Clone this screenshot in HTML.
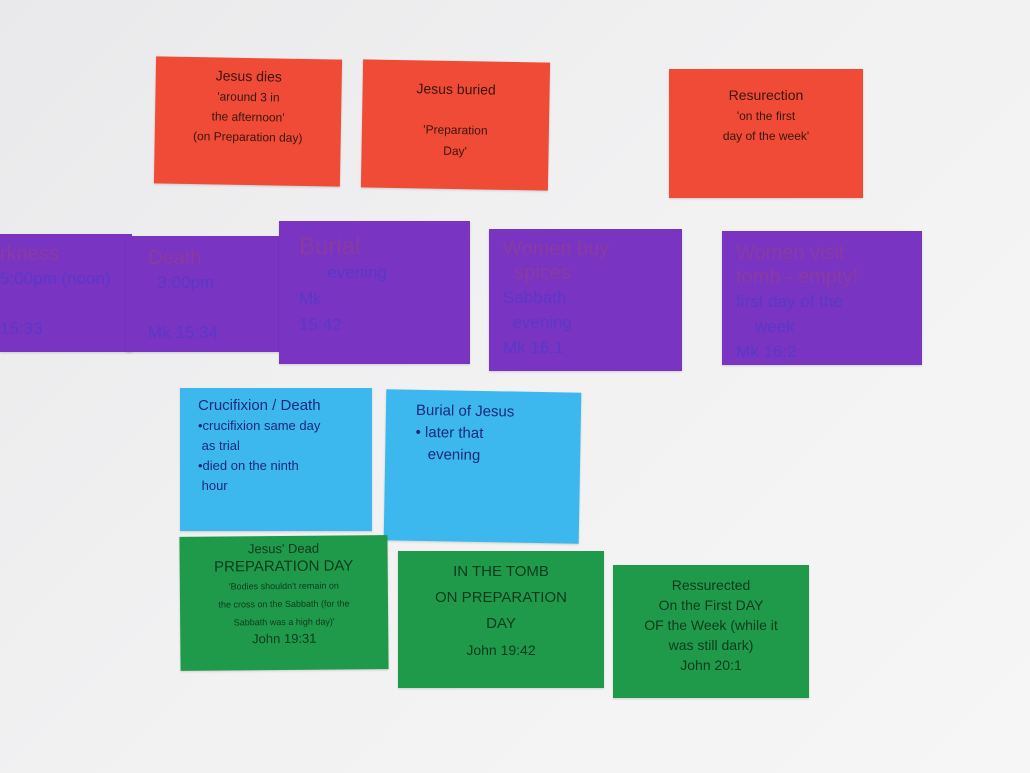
<!DOCTYPE html>
<html><head><meta charset="utf-8"><style>
html,body{margin:0;padding:0}
body{width:1030px;height:773px;overflow:hidden;position:relative;
background:linear-gradient(135deg,#e9e9eb 0%,#f1f1f2 45%,#f6f6f6 100%);
font-family:"Liberation Sans",sans-serif}
.n{position:absolute;box-sizing:border-box;box-shadow:0 1px 2px rgba(0,0,0,.15)}
.r{background:#f04b36;color:#3a1510;font-size:14px;text-align:center;line-height:20px}
.p{background:#7a34c2;color:#8a3aa0;font-size:20px;line-height:24px}
.p .b{color:#5a38c8;font-size:17px}
.bl{background:#3cb8ee;color:#1a2a7a;font-size:13px;line-height:20px}
.g{background:#1f9a4b;color:#0d3a1c;font-size:13px;text-align:center;line-height:18px}
</style></head><body>

<div class="n r" style="left:155px;top:58px;width:186px;height:127px;transform:rotate(1deg);padding-top:8px">Jesus dies<br><span style="font-size:12px;line-height:18px">'around 3 in<br>the afternoon'<br>(on Preparation day)</span></div>
<div class="n r" style="left:362px;top:61px;width:187px;height:128px;transform:rotate(1deg);padding-top:18px">Jesus buried<br><br><span style="font-size:12px">'Preparation<br>Day'</span></div>
<div class="n r" style="left:669px;top:69px;width:194px;height:129px;padding-top:16px">Resurection<br><span style="font-size:12px;line-height:18px">'on the first<br>day of the week'</span></div>

<div class="n p" style="left:0;top:234px;width:132px;height:118px;padding:8px 0 0 0">rkness<br><span class="b">5:00pm (noon)<br><br>15:33</span></div>
<div class="n p" style="left:126px;top:236px;width:160px;height:116px;padding:10px 0 0 22px">Death<br><span class="b">&nbsp;&nbsp;3:00pm<br><br>Mk 15:34</span></div>
<div class="n p" style="left:279px;top:221px;width:191px;height:143px;padding:14px 0 0 20px;font-size:24px">Burial<br><span class="b">&nbsp;&nbsp;&nbsp;&nbsp;&nbsp;&nbsp;evening<br>Mk<br>15:42</span></div>
<div class="n p" style="left:489px;top:229px;width:193px;height:142px;padding:8px 0 0 14px">Women buy<br>&nbsp;&nbsp;spices<br><span class="b">Sabbath<br>&nbsp;&nbsp;evening<br>Mk 16:1</span></div>
<div class="n p" style="left:722px;top:231px;width:200px;height:134px;padding:10px 0 0 14px">Women visit<br>tomb - empty!<br><span class="b">first day of the<br>&nbsp;&nbsp;&nbsp;&nbsp;week<br>Mk 16:2</span></div>

<div class="n bl" style="left:180px;top:388px;width:192px;height:143px;padding:8px 0 0 18px"><span style="font-size:15px">Crucifixion / Death</span><br>•crucifixion same day<br>&nbsp;as trial<br>•died on the ninth<br>&nbsp;hour</div>
<div class="n bl" style="left:385px;top:391px;width:195px;height:151px;padding:10px 0 0 30px;font-size:15px;line-height:22px;transform:rotate(1deg)">Burial of Jesus<br>• later that<br>&nbsp;&nbsp;&nbsp;evening</div>

<div class="n g" style="left:180px;top:536px;width:208px;height:134px;padding-top:4px;transform:rotate(-0.5deg)">Jesus' Dead<br><span style="font-size:15px">PREPARATION DAY</span><br><span style="font-size:9px;line-height:14px">'Bodies shouldn't remain on<br>the cross on the Sabbath (for the<br>Sabbath was a high day)'</span><br>John 19:31</div>
<div class="n g" style="left:398px;top:551px;width:206px;height:137px;padding-top:8px;font-size:15px;line-height:26px">IN THE TOMB<br>ON PREPARATION<br>DAY<br><span style="font-size:14px">John 19:42</span></div>
<div class="n g" style="left:613px;top:565px;width:196px;height:133px;padding-top:10px;font-size:14px;line-height:20px">Ressurected<br>On the First DAY<br>OF the Week (while it<br>was still dark)<br>John 20:1</div>

</body></html>
